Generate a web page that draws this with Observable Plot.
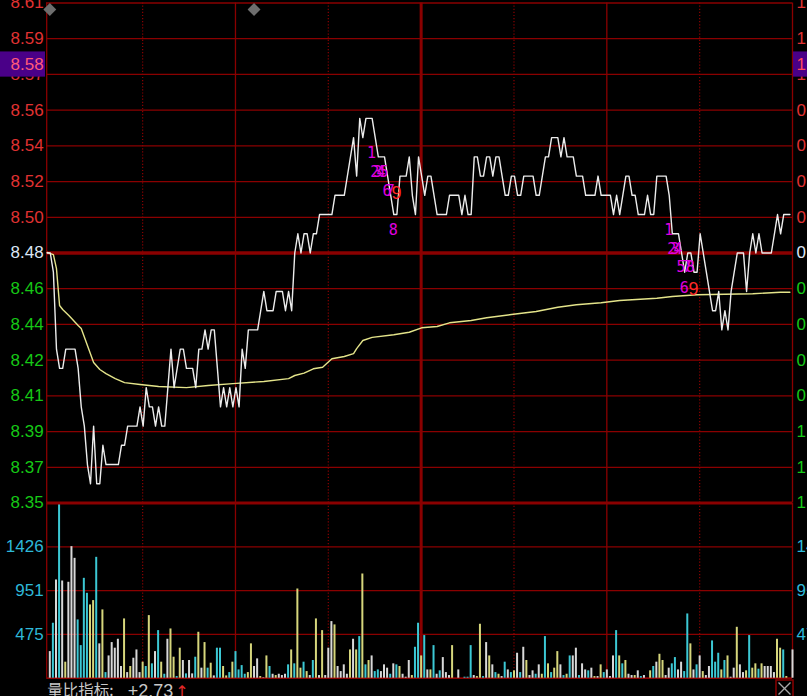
<!DOCTYPE html>
<html><head><meta charset="utf-8">
<script src="https://cdn.jsdelivr.net/npm/d3@7"></script>
<script src="https://cdn.jsdelivr.net/npm/@observablehq/plot@0.6"></script>
<style>
html,body{margin:0;padding:0;background:#000;overflow:hidden;}
#chart{position:relative;width:807px;height:696px;background:#000;}
#chart svg{position:absolute;left:0;top:0;max-width:none;}
</style></head><body><div id="chart"></div>
<script>
// ---------- data ----------
const prevClose = 8.48;
const priceTop = 8.61, priceBottom = 8.35;
const priceTickLabels = ["8.61","8.59","8.57","8.56","8.54","8.52","8.50","8.48","8.46","8.44","8.42","8.41","8.39","8.37","8.35"];
const pctTickLabels = ["1.53%","1.31%","1.09%","0.88%","0.66%","0.44%","0.22%","0.00%","0.22%","0.44%","0.66%","0.88%","1.09%","1.31%","1.53%"];
const volMax = 1901;
const volTickValues = [1426, 951, 475];
const volTickLabels = ["1426", "951", "475"];

// minutes from 9:30 (0..240); -1 is the left border
const timeGridSolid = [-1, 60, 180, 240];
const timeGridDotted = [30, 90, 150, 210];
const timeGridMid = [120];

const prices = [
8.48,8.48,8.47,8.43,8.42,8.42,8.43,8.43,8.43,8.43,
8.42,8.40,8.39,8.37,8.36,8.39,8.36,8.36,8.38,8.37,
8.37,8.37,8.37,8.37,8.38,8.38,8.39,8.39,8.39,8.39,
8.40,8.39,8.41,8.40,8.40,8.39,8.40,8.39,8.39,8.41,
8.43,8.41,8.42,8.43,8.43,8.42,8.42,8.42,8.41,8.43,
8.43,8.44,8.43,8.44,8.44,8.42,8.40,8.41,8.40,8.41,
8.40,8.41,8.40,8.43,8.42,8.44,8.44,8.44,8.44,8.45,
8.46,8.45,8.45,8.45,8.46,8.46,8.46,8.45,8.46,8.45,
8.48,8.49,8.48,8.49,8.49,8.48,8.49,8.49,8.50,8.50,
8.50,8.50,8.50,8.51,8.51,8.51,8.51,8.52,8.53,8.54,
8.52,8.55,8.54,8.55,8.55,8.55,8.54,8.53,8.53,8.53,
8.52,8.51,8.50,8.50,8.52,8.52,8.52,8.53,8.51,8.50,
8.53,8.52,8.51,8.52,8.52,8.51,8.50,8.50,8.50,8.50,
8.51,8.51,8.51,8.51,8.50,8.51,8.50,8.50,8.53,8.53,
8.52,8.52,8.53,8.53,8.52,8.53,8.53,8.52,8.51,8.51,
8.52,8.52,8.51,8.51,8.52,8.52,8.52,8.52,8.51,8.51,
8.52,8.53,8.53,8.54,8.54,8.54,8.53,8.54,8.53,8.53,
8.53,8.52,8.52,8.52,8.51,8.51,8.51,8.51,8.52,8.51,
8.51,8.51,8.51,8.50,8.51,8.50,8.51,8.52,8.52,8.51,
8.51,8.50,8.50,8.50,8.51,8.50,8.50,8.52,8.52,8.52,
8.52,8.51,8.49,8.49,8.49,8.48,8.47,8.48,8.48,8.47,
8.47,8.49,8.48,8.47,8.46,8.45,8.45,8.46,8.44,8.45,
8.44,8.46,8.47,8.48,8.48,8.48,8.46,8.48,8.49,8.48,
8.49,8.48,8.48,8.48,8.48,8.49,8.50,8.49,8.50,8.50,
8.50
];

const avgMinutes = [0,2,3,4,5,7,10,11,13,15,17,19,22,25,30,36,45,52,60,70,78,80,83,86,89,92,96,99,100,102,105,112,117,121,126,130,137,142,150,158,165,171,179,185,197,202,210,228,237,240];
const avgPrices = [8.4803,8.4792,8.4719,8.4527,8.4506,8.4475,8.4423,8.4407,8.4319,8.4231,8.4194,8.4173,8.4147,8.4126,8.4116,8.4106,8.4100,8.4111,8.4121,8.4132,8.4147,8.4163,8.4175,8.4198,8.4206,8.4250,8.4262,8.4277,8.4303,8.4345,8.4361,8.4375,8.4388,8.4411,8.4418,8.4437,8.4449,8.4463,8.4480,8.4496,8.4518,8.4531,8.4541,8.4553,8.4565,8.4574,8.4583,8.4588,8.4596,8.4596];

const volumes = [
289,597,1067,1888,1056,174,1042,1429,1302,633,354,1085,922,796,843,1313,373,742,61,242,
387,326,423,127,644,61,127,217,307,61,174,127,680,156,289,517,174,43,423,535,
228,18,326,192,47,192,47,228,499,109,387,109,163,25,326,326,127,25,61,174,
289,90,137,43,61,373,127,210,18,5,242,127,
43,29,43,29,43,145,307,156,969,109,174,72,29,192,644,29,517,29,326,615,
579,127,72,145,43,307,423,307,452,1132,145,192,242,72,90,72,145,109,43,156,
145,127,43,11,192,29,336,597,242,463,90,90,354,43,80,224,61,29,354,0,
90,0,11,11,354,29,18,586,18,387,242,145,61,43,18,174,90,61,80,271,
61,336,192,29,80,43,145,
43,452,156,61,109,289,145,29,43,242,242,326,29,156,90,80,109,18,18,145,
61,90,18,242,517,242,156,192,43,29,29,80,18,29,0,80,127,174,260,192,
29,109,156,224,90,174,72,698,373,90,145,242,72,29,127,405,174,271,90,192,
242,11,109,553,145,61,80,463,109,156,98,156,127,127,127,61,423,326,307,18,
0,307
];
// y = up tick, c = down tick, w = unchanged
const volDirs = (
"wcwcwywwwc"+"cccyycwycw"+"wwwwywywww"+"ycycwcycwy"+"ycywcwwcyw"+"ycywccyycy"+"ccccyywwyw"+"yc"+
"wywwwcycyy"+"cywcywywww"+"ywwwwywycy"+"cywccwwwcw"+"cywwwyccyc"+"wycwcwwwyw"+"wwcccwyycw"+"ywcywcwcyw"+"cwywwcw"+
"ycycyywcyc"+"wwcwwcwywy"+"cwwwcycyww"+"ywcwwycwyy"+"wwccwwccyw"+"cwywwcccyc"+"ywwywwycyy"+"cywwwwyycy"+"ww"
).split("");

const eventMinutes = [0, 66];

const tdMinutes = [104,105,106,107,108,109,110,111,112, 200,201,202,203,204,205,206,207,208];
const tdPrices  = [8.5317,8.5219,8.5219,8.5219,8.5219,8.5120,8.5120,8.4917,8.5110, 8.4917,8.4818,8.4818,8.4818,8.4725,8.4615,8.4725,8.4725,8.4610];
const tdLabels  = ["1","2","3","4","5","6","7","8","9","1","2","3","4","5","6","7","8","9"];

const highlightPrice = 8.578;
const highlightLabel = "8.58";
const highlightPct = "1.18%";

const volRatioName = "量比指标:";
const volRatioValue = "+2.73";
const volRatioArrow = "↑";

// ---------- styling ----------
const GRID = "#8a0000";
const RED = "#e03232", NEUTRAL = "#dde6f5", GREEN = "#16c816", CYAN = "#2eb8d8";
const W = 807, H = 696;
const mLeft = 46.2, mRight = 15;

const levels = priceTickLabels.map((_, k) => priceTop - k * (priceTop - priceBottom) / (priceTickLabels.length - 1));
const tickRows = priceTickLabels.map((label, k) => ({
  value: levels[k], label, pct: pctTickLabels[k],
  color: k < 7 ? RED : (k === 7 ? NEUTRAL : GREEN)
}));
const thinLevels = levels.filter(v => Math.abs(v - prevClose) > 1e-6 && Math.abs(v - priceBottom) > 1e-6);
const priceRows = prices.map((p, i) => ({m: i, p}));
const avgRows = avgMinutes.map((m, i) => ({m, p: avgPrices[i]}));
const tdRows = tdMinutes.map((m, i) => ({m, p: tdPrices[i], t: tdLabels[i]}));
const volRows = volumes.map((v, i) => ({m: i, v, d: volDirs[i]}));

const sans = "Liberation Sans, Arial, sans-serif";

function timeGrid() {
  return [
    Plot.ruleX(timeGridSolid, {stroke: GRID, strokeWidth: 1.3}),
    Plot.ruleX(timeGridDotted, {stroke: GRID, strokeWidth: 1.2, strokeDasharray: "1.2,1.9"}),
    Plot.ruleX(timeGridMid, {stroke: GRID, strokeWidth: 3})
  ];
}

// ---------- volume panel (background) ----------
const volPlot = Plot.plot({
  width: W, height: H,
  marginLeft: mLeft, marginRight: mRight, marginTop: 502.7, marginBottom: 18.3,
  x: {domain: [-1, 240], axis: null},
  y: {domain: [0, volMax], axis: null},
  color: {domain: ["y", "c", "w"], range: ["#d6d67c", "#3cc8d4", "#d8d8d8"]},
  style: {background: "#000", fontFamily: sans, overflow: "hidden"},
  marks: [
    Plot.ruleY(volTickValues, {stroke: GRID, strokeWidth: 1.3}),
    Plot.ruleY([0], {stroke: GRID, strokeWidth: 1.8}),
    ...timeGrid(),
    Plot.ruleX(volRows, {x: "m", y1: 0, y2: "v", stroke: "d", strokeWidth: 2}),
    Plot.text(volTickValues, {y: d => d, text: (d, i) => volTickLabels[i], frameAnchor: "left", textAnchor: "end", dx: -3, fill: CYAN, fontSize: 17}),
    Plot.text(volTickValues, {y: d => d, text: (d, i) => volTickLabels[i], frameAnchor: "right", textAnchor: "start", dx: 4, fill: CYAN, fontSize: 17}),
    Plot.text([volRatioName], {text: d => d, frameAnchor: "bottom-left", textAnchor: "start", lineAnchor: "middle", dx: 0.5, dy: 13, fill: "#c8c8c8", fontSize: 15.5, fontFamily: "Noto Sans CJK SC"}),
    Plot.text([volRatioValue], {text: d => d, frameAnchor: "bottom-left", textAnchor: "start", lineAnchor: "middle", dx: 81, dy: 13.5, fill: "#c8c8c8", fontSize: 18}),
    Plot.text([volRatioArrow], {text: d => d, frameAnchor: "bottom-left", textAnchor: "start", lineAnchor: "middle", dx: 128.5, dy: 13.5, fill: "#e02828", fontSize: 16, fontFamily: "DejaVu Sans"}),
    Plot.dot([0], {frameAnchor: "bottom-right", dx: -8, dy: 10.3, symbol: "square", r: 9.6, stroke: GRID, strokeWidth: 1.5, fill: "#000"}),
    Plot.dot([0], {frameAnchor: "bottom-right", dx: -8, dy: 10.3, symbol: "times", r: 5.5, stroke: "#a8a8a8", strokeWidth: 1.3})
  ]
});

// ---------- price panel (overlay) ----------
const pricePlot = Plot.plot({
  width: W, height: H,
  marginLeft: mLeft, marginRight: mRight, marginTop: 2.5, marginBottom: 193.5,
  x: {domain: [-1, 240], axis: null},
  y: {domain: [priceBottom, priceTop], axis: null},
  style: {background: "transparent", fontFamily: sans, overflow: "hidden"},
  marks: [
    Plot.ruleY(thinLevels, {stroke: GRID, strokeWidth: 1.3}),
    Plot.ruleY([prevClose], {stroke: GRID, strokeWidth: 3.5}),
    Plot.ruleY([priceBottom], {stroke: GRID, strokeWidth: 3}),
    ...timeGrid(),
    Plot.line(avgRows, {x: "m", y: "p", stroke: "#e4e48a", strokeWidth: 1.4, dx: -2.6}),
    Plot.line(priceRows, {x: "m", y: "p", stroke: "#ececec", strokeWidth: 1.4, dx: -2.6}),
    Plot.dot(eventMinutes, {x: d => d, frameAnchor: "top", dy: 6.5, symbol: "diamond2", r: 5.8, fill: "#6e6e6e"}),
    Plot.text(tickRows, {y: "value", text: "label", frameAnchor: "left", textAnchor: "end", dx: -3, fill: d => d.color, fontSize: 17}),
    Plot.text(tickRows, {y: "value", text: "pct", frameAnchor: "right", textAnchor: "start", dx: 4, fill: d => d.color, fontSize: 17}),
    Plot.rect([highlightPrice], {y1: d => d, y2: d => d, insetTop: -12.6, insetBottom: -12.6, insetLeft: -mLeft, insetRight: (W - mRight) - 45 - mLeft + mLeft, fill: "#4a0088"}),
    Plot.rect([highlightPrice], {y1: d => d, y2: d => d, insetTop: -12.6, insetBottom: -12.6, insetLeft: (W - mRight) - mLeft + 1, insetRight: -mRight, fill: "#4a0088"}),
    Plot.text([highlightPrice], {y: d => d, text: () => highlightLabel, frameAnchor: "left", textAnchor: "end", dx: -3, fill: "#ff5a78", fontSize: 17}),
    Plot.text([highlightPrice], {y: d => d, text: () => highlightPct, frameAnchor: "right", textAnchor: "start", dx: 4, fill: "#ff4a5a", fontSize: 17}),
    Plot.text(tdRows.filter(d => d.t !== "9"), {x: "m", y: "p", text: "t", fill: "#e000e0", fontSize: 15, fontFamily: "DejaVu Sans Mono"}),
    Plot.text(tdRows.filter(d => d.t === "9"), {x: "m", y: "p", text: "t", fill: "#ff2a2a", fontSize: 18, fontFamily: sans})
  ]
});

document.getElementById("chart").append(volPlot, pricePlot);
</script>
</body></html>
